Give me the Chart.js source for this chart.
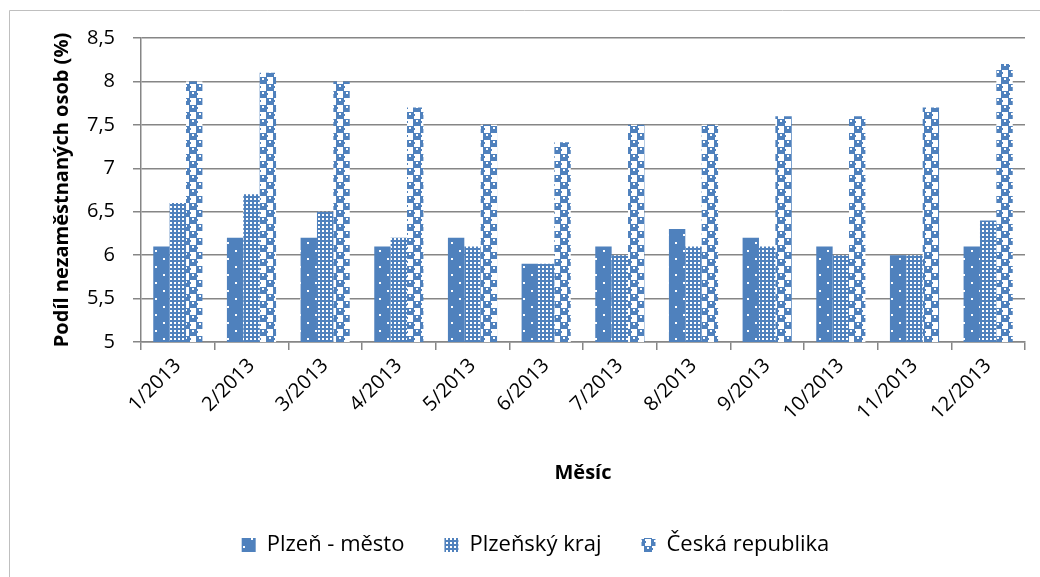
<!DOCTYPE html>
<html>
<head>
<meta charset="utf-8">
<script src="https://cdn.jsdelivr.net/npm/chart.js@4.4.1/dist/chart.umd.min.js"></script>
<style>
html,body{margin:0;padding:0;background:#fff;}
#wrap{width:1040px;height:577px;position:relative;}
</style>
</head>
<body>
<div id="wrap"><canvas id="c" width="1040" height="577"></canvas></div>
<script>
const categories = ['1/2013','2/2013','3/2013','4/2013','5/2013','6/2013','7/2013','8/2013','9/2013','10/2013','11/2013','12/2013'];
const seriesNames = ['Plzeň - město','Plzeňský kraj','Česká republika'];
const plzenMesto = [6.1, 6.2, 6.2, 6.1, 6.2, 5.9, 6.1, 6.3, 6.2, 6.1, 6.0, 6.1];
const plzenskyKraj = [6.6, 6.7, 6.5, 6.2, 6.1, 5.9, 6.0, 6.1, 6.1, 6.0, 6.0, 6.4];
const ceskaRepublika = [8.0, 8.1, 8.0, 7.7, 7.5, 7.3, 7.5, 7.5, 7.6, 7.6, 7.7, 8.2];
const yTicks = [5, 5.5, 6, 6.5, 7, 7.5, 8, 8.5];
const yAxisTitle = 'Podíl nezaměstnaných osob (%)';
const xAxisTitle = 'Měsíc';

const BLUE = '#4F81BD';
const FONT = 'Open Sans';

function makePattern(kind) {
  const t = document.createElement('canvas');
  const ctx = t.getContext('2d');
  if (kind === 0) {
    t.width = 16; t.height = 16;
    ctx.fillStyle = BLUE; ctx.fillRect(0,0,16,16);
    ctx.fillStyle = '#fff';
    ctx.fillRect(3,2,2,2); ctx.fillRect(11,10,2,2);
  } else if (kind === 1) {
    t.width = 4; t.height = 4;
    ctx.fillStyle = BLUE; ctx.fillRect(0,0,4,4);
    ctx.fillStyle = '#fff';
    ctx.fillRect(2,2,2,2);
  } else {
    t.width = 14; t.height = 14;
    ctx.fillStyle = '#fff'; ctx.fillRect(0,0,14,14);
    ctx.fillStyle = BLUE;
    ctx.fillRect(0,0,8,7); ctx.fillRect(7,7,7,7); ctx.fillRect(0,7,1,7);
    ctx.fillRect(7,2,2,2); ctx.fillRect(0,9,2,2);
    ctx.fillStyle = '#fff';
    ctx.fillRect(3,1,2,2); ctx.fillRect(10,8,2,2);
  }
  return document.getElementById('c').getContext('2d').createPattern(t, 'repeat');
}

const borderPlugin = {
  id: 'outerBorder',
  beforeDraw(chart) {
    const ctx = chart.ctx;
    ctx.save();
    ctx.fillStyle = '#fff';
    ctx.fillRect(0,0,chart.width,chart.height);
    ctx.strokeStyle = '#BFBFBF';
    ctx.lineWidth = 1;
    ctx.beginPath();
    ctx.moveTo(9.5, chart.height);
    ctx.lineTo(9.5, 10.5);
    ctx.lineTo(chart.width, 10.5);
    ctx.stroke();
    ctx.restore();
  },
  afterLayout(chart) {
    if (chart.legend) { chart.legend.left += 18; chart.legend.right += 18; }
  }
};

const values = [plzenMesto, plzenskyKraj, ceskaRepublika];
const datasets = seriesNames.map((n, i) => ({
  label: n,
  data: values[i],
  backgroundColor: makePattern(i),
  borderWidth: 0,
  categoryPercentage: 0.667,
  barPercentage: 1.0
}));

new Chart(document.getElementById('c'), {
  type: 'bar',
  data: { labels: categories, datasets },
  options: {
    responsive: false,
    animation: false,
    devicePixelRatio: 1,
    layout: { padding: { left: 10, top: 38, right: 15, bottom: 11 } },
    plugins: {
      tooltip: { enabled: false },
      legend: {
        position: 'bottom',
        labels: {
          font: { family: FONT, size: 22 },
          color: '#000',
          boxWidth: 14,
          boxHeight: 14,
          padding: 40
        }
      }
    },
    scales: {
      x: {
        grid: { offset: true, drawOnChartArea: false, drawTicks: true, tickLength: 8, color: '#868686', lineWidth: 1.5 },
        border: { color: '#868686', width: 1.5 },
        ticks: { font: { family: FONT, size: 20 }, color: '#000', maxRotation: 45, minRotation: 45, padding: 4 },
        title: { display: true, text: xAxisTitle, font: { family: FONT, size: 20, weight: 'bold' }, color: '#000', padding: { top: 4, bottom: 9 } },
        afterFit(scale) { scale.height = 152; }
      },
      y: {
        min: 5, max: 8.5,
        grid: { color: '#868686', lineWidth: 1.5, tickLength: 8 },
        border: { color: '#868686', width: 1.5 },
        afterBuildTicks(scale) { scale.ticks = yTicks.map(v => ({ value: v })); },
        ticks: {
          font: { family: FONT, size: 20 }, color: '#000', padding: 18,
          callback: (v) => String(v).replace('.', ',')
        },
        title: { display: true, text: yAxisTitle, font: { family: FONT, size: 20, weight: 'bold' }, color: '#000', padding: { top: 40, bottom: 4 } },
        afterFit(scale) { scale.width = 131; }
      }
    }
  },
  plugins: [borderPlugin]
});
</script>
</body>
</html>
